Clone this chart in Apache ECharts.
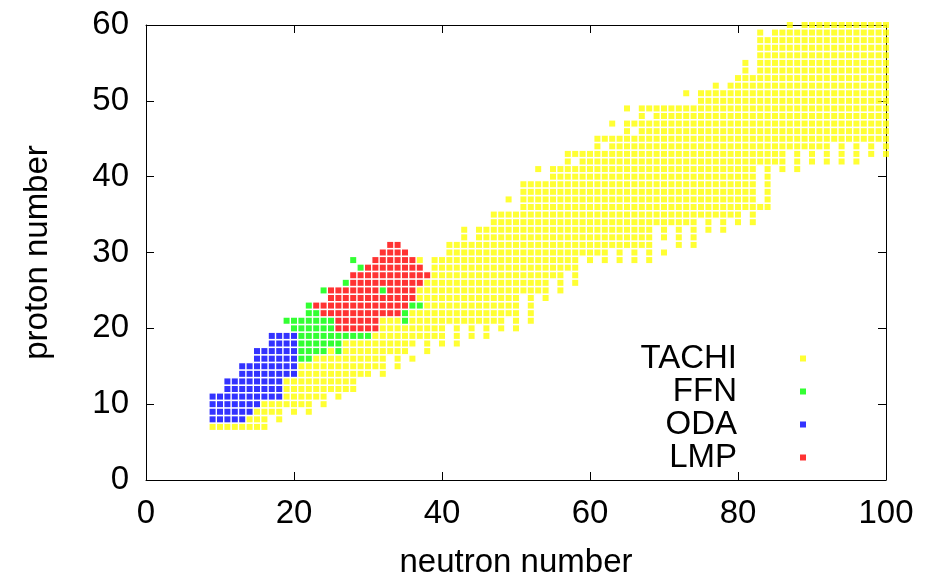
<!DOCTYPE html>
<html>
<head>
<meta charset="utf-8">
<script src="https://cdn.jsdelivr.net/npm/echarts@6/dist/echarts.min.js"></script>
<style>
html, body { margin: 0; padding: 0; background: #ffffff; }
#chart { width: 934px; height: 576px; }
</style>
</head>
<body>
<div id="chart"></div>
<script>
// Rate tables shown on the nuclide chart
const seriesNames = ['TACHI', 'FFN', 'ODA', 'LMP'];
const seriesColors = ['#ffff00', '#00ff00', '#0000ff', '#ff0000'];

// Axis ticks
const xTicks = [0, 20, 40, 60, 80, 100];
const yTicks = [0, 10, 20, 30, 40, 50, 60];

// Covered nuclides: proton number -> neutron numbers ("a-b" is a run a..b)
const tachiRows = {
  7: '9-16',
  8: '14-16,18',
  9: '15-18,20,22',
  10: '16-22,24',
  11: '19-24,26',
  12: '19-28',
  13: '19-28',
  14: '21-30,32',
  15: '21-32,34',
  16: '23-32,34,36',
  17: '25,27-35,38',
  18: '27-36,38,40,42',
  19: '31-40,42,44,46',
  20: '32-40,42,44,46,48,50',
  21: '32-34,36-48,50,52',
  22: '36-50,52',
  23: '38-50,52',
  24: '37-50,52,54',
  25: '37-54,56',
  26: '38-54,56,58',
  27: '39-56,58',
  28: '39-58',
  29: '37,39-58,60,62,64,66,68',
  30: '41-62,64,66,68,70',
  31: '41-68,72,74',
  32: '43,45-68,70,72,74',
  33: '43,45-68,70,72,74,76,78',
  34: '47-74,76,78,80,82',
  35: '47-80,82',
  36: '51-84',
  37: '49,51-82,84',
  38: '51-82,84',
  39: '51-82,84',
  40: '55-82,84',
  41: '53,55-82,84,86,88',
  42: '57,59-86,88,90,92,94,96',
  43: '57-86,88,90,92,94,96,98,100',
  44: '61,63-92,94,96,98,100',
  45: '61-100',
  46: '65,67-100',
  47: '63,65-100',
  48: '67,69-100',
  49: '65,67-100',
  50: '75-100',
  51: '73,75-100',
  52: '77,79-100',
  53: '80-100',
  54: '81,83-100',
  55: '81,83-100',
  56: '83-100',
  57: '83-100',
  58: '83-100',
  59: '83,85-100',
  60: '87,89-100'
};

const ffnRows = {
  16: '21,22',
  17: '21-24,26',
  18: '21-26',
  19: '21-30',
  20: '20-25',
  21: '19-25,35',
  22: '22,23,35',
  23: '22,36,37',
  25: '24,32',
  26: '27',
  28: '29',
  29: '28'
};

const odaRows = {
  8: '9-13',
  9: '9-14',
  10: '9-15',
  11: '9-18',
  12: '11-18',
  13: '11-18',
  14: '13-20',
  15: '13-20',
  16: '15-20',
  17: '15-20',
  18: '17-20',
  19: '17-20'
};

const lmpRows = {
  20: '26-31',
  21: '26-31',
  22: '24-34',
  23: '23-35',
  24: '25-36',
  25: '25-31,33-36',
  26: '28-37',
  27: '28-38',
  28: '30-37',
  29: '31-36',
  30: '32-35',
  31: '33,34'
};

// Expand the row lists into [N, Z] points
function toPoints(rows) {
  const pts = [];
  Object.keys(rows).forEach(function (zKey) {
    const z = Number(zKey);
    rows[zKey].split(',').forEach(function (part) {
      const ends = part.split('-').map(Number);
      const a = ends[0];
      const b = ends.length > 1 ? ends[1] : ends[0];
      for (let n = a; n <= b; n++) pts.push([n, z]);
    });
  });
  return pts;
}

const seriesRows = [tachiRows, ffnRows, odaRows, lmpRows];

const fontFamily = '"Liberation Sans", Arial, sans-serif';
const axisColor = '#000000';

function mirrorAxis(base, position) {
  return Object.assign({}, base, {
    position: position,
    name: '',
    axisLabel: { show: false }
  });
}

const xBase = {
  type: 'value',
  min: xTicks[0],
  max: xTicks[xTicks.length - 1],
  interval: xTicks[1] - xTicks[0],
  axisLine: { show: true, onZero: false, lineStyle: { color: axisColor, width: 1 } },
  axisTick: { show: true, inside: true, length: 8, lineStyle: { color: axisColor, width: 1 } },
  splitLine: { show: false },
  axisLabel: { color: '#000', fontSize: 33, fontFamily: fontFamily, margin: 17 },
  name: 'neutron number',
  nameLocation: 'middle',
  nameGap: 66,
  nameTextStyle: { color: '#000', fontSize: 33, fontFamily: fontFamily }
};

const yBase = {
  type: 'value',
  min: yTicks[0],
  max: yTicks[yTicks.length - 1],
  interval: yTicks[1] - yTicks[0],
  axisLine: { show: true, onZero: false, lineStyle: { color: axisColor, width: 1 } },
  axisTick: { show: true, inside: true, length: 8, lineStyle: { color: axisColor, width: 1 } },
  splitLine: { show: false },
  axisLabel: { color: '#000', fontSize: 33, fontFamily: fontFamily, margin: 17 },
  name: 'proton number',
  nameLocation: 'middle',
  nameRotate: 90,
  nameGap: 92,
  nameTextStyle: { color: '#000', fontSize: 33, fontFamily: fontFamily }
};

const chart = echarts.init(document.getElementById('chart'), null, { renderer: 'canvas' });

chart.setOption({
  animation: false,
  backgroundColor: '#ffffff',
  grid: {
    left: 146, right: 48, top: 25, bottom: 96,
    containLabel: false,
    outerBoundsMode: 'none'
  },
  xAxis: [Object.assign({ position: 'bottom' }, xBase), mirrorAxis(xBase, 'top')],
  yAxis: [Object.assign({ position: 'left' }, yBase), mirrorAxis(yBase, 'right')],
  legend: {
    data: seriesNames,
    orient: 'vertical',
    align: 'right',
    right: 123,
    top: 337,
    icon: 'rect',
    itemWidth: 6,
    itemHeight: 6,
    itemGap: 0,
    selectedMode: false,
    textStyle: {
      color: '#000',
      fontSize: 33,
      fontFamily: fontFamily,
      lineHeight: 32.5,
      padding: [0, 58, 0, 0]
    }
  },
  series: seriesNames.map(function (name, i) {
    return {
      name: name,
      type: 'scatter',
      xAxisIndex: 0,
      yAxisIndex: 0,
      symbol: 'rect',
      symbolSize: 6,
      clip: false,
      itemStyle: { color: seriesColors[i] },
      data: toPoints(seriesRows[i])
    };
  })
});
</script>
</body>
</html>
